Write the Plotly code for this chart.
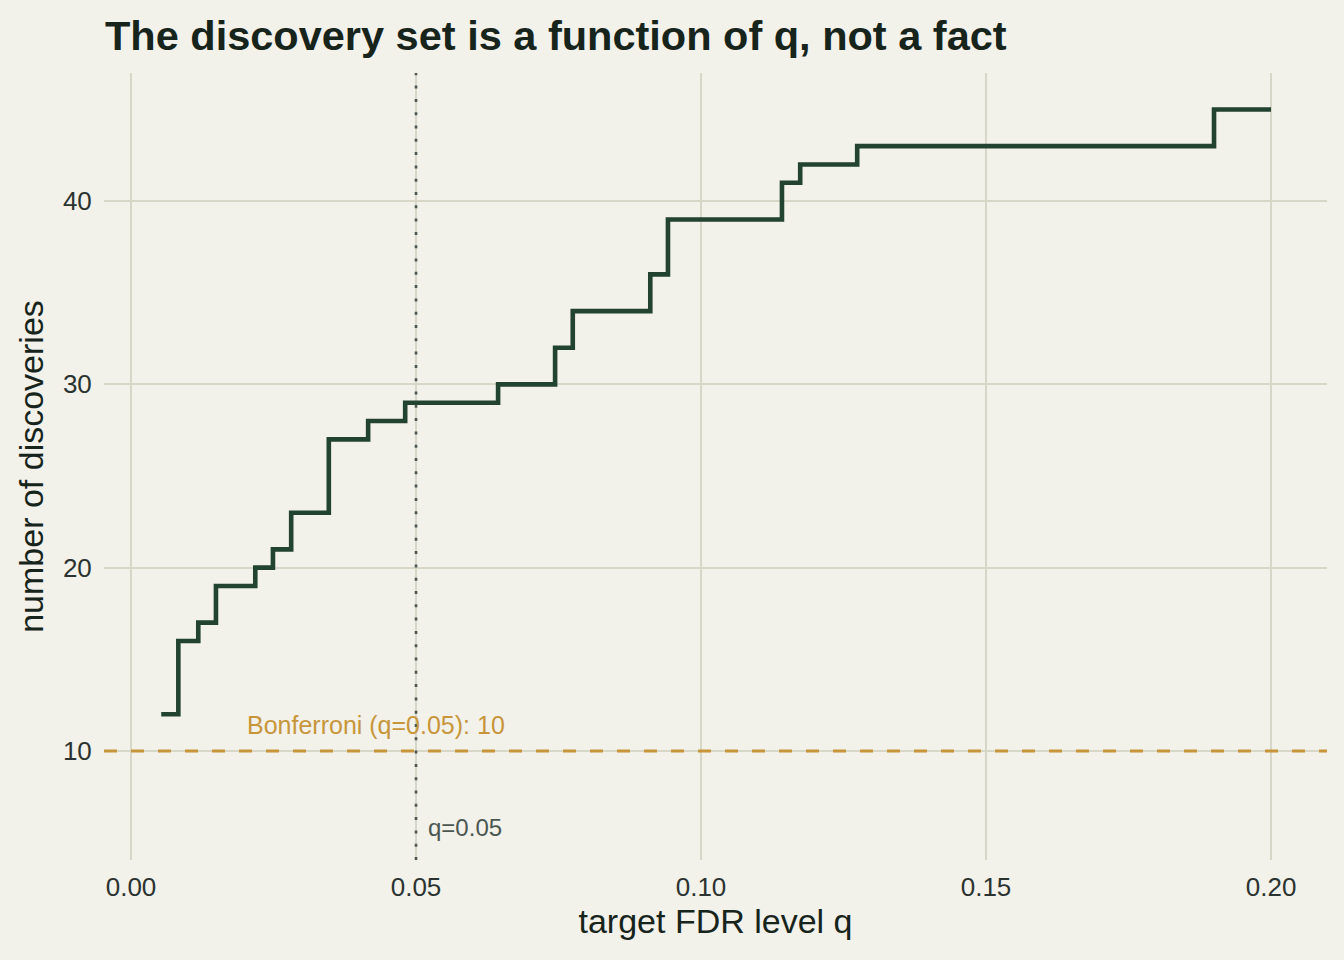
import plotly.graph_objects as go

# Step change points: target FDR level q and number of discoveries
q_vals = [0.0053, 0.0083, 0.0118, 0.0149, 0.0218, 0.0249, 0.0281, 0.0347,
          0.0416, 0.0481, 0.0644, 0.0744, 0.0775, 0.0911, 0.0942, 0.1142,
          0.1174, 0.1274, 0.1900, 0.2000]
n_disc = [12, 16, 17, 19, 20, 21, 23, 27, 28, 29, 30, 32, 34, 36, 39, 41,
          42, 43, 45, 45]

bonferroni = 10
q_ref = 0.05
x_ticks = [0.00, 0.05, 0.10, 0.15, 0.20]
x_tick_labels = ["0.00", "0.05", "0.10", "0.15", "0.20"]
y_ticks = [10, 20, 30, 40]

BG = "#f2f1ea"
GRID = "#d7d7c8"
LINE = "#21432f"
GOLD = "#c8963a"
REF = "#4a5650"
FONT = "Liberation Sans, Arial, sans-serif"

fig = go.Figure()
fig.add_trace(go.Scatter(
    x=q_vals, y=n_disc, mode="lines", line=dict(color=LINE, width=4.6, shape="hv"),
    hoverinfo="skip", showlegend=False))

fig.add_hline(y=bonferroni, line=dict(color=GOLD, width=3, dash="13px,14px"), layer="above")
fig.add_vline(x=q_ref, line=dict(color=REF, width=2.6, dash="3px,10.3px"), layer="above")

fig.add_annotation(x=0.02, y=bonferroni + 1.4, text="Bonferroni (q=0.05): 10",
                   showarrow=False, xanchor="left", yanchor="middle",
                   font=dict(family=FONT, size=25, color=GOLD))
fig.add_annotation(x=q_ref + 0.0018, y=5.85, text="q=0.05",
                   showarrow=False, xanchor="left", yanchor="middle",
                   font=dict(family=FONT, size=24, color=REF))

fig.update_layout(
    width=1344, height=960,
    paper_bgcolor=BG, plot_bgcolor=BG,
    margin=dict(l=104, r=17, t=73, b=100),
    title=dict(text="<b>The discovery set is a function of q, not a fact</b>",
               x=105 / 1344, xanchor="left", y=1 - 35 / 960, yanchor="middle",
               font=dict(family=FONT, size=41.5, color="#17241b")),
    font=dict(family=FONT, color="#2b3330"),
    xaxis=dict(range=[-0.00474, 0.20982], tickvals=x_ticks, ticktext=x_tick_labels,
               showgrid=True, gridcolor=GRID, gridwidth=1.5, zeroline=False,
               showline=False, ticks="outside", ticklen=4, tickcolor="rgba(0,0,0,0)",
               tickfont=dict(size=26, color="#2b3330"),
               title=dict(text="target FDR level q", font=dict(size=34, color="#17241b"),
                          standoff=4)),
    yaxis=dict(range=[4.05, 46.99], tickvals=y_ticks,
               showgrid=True, gridcolor=GRID, gridwidth=1.5, zeroline=False,
               showline=False, ticks="outside", ticklen=6, tickcolor="rgba(0,0,0,0)",
               tickfont=dict(size=26, color="#2b3330"),
               title=dict(text="number of discoveries", font=dict(size=34, color="#17241b"),
                          standoff=8)),
)

fig.write_html("out.html")
